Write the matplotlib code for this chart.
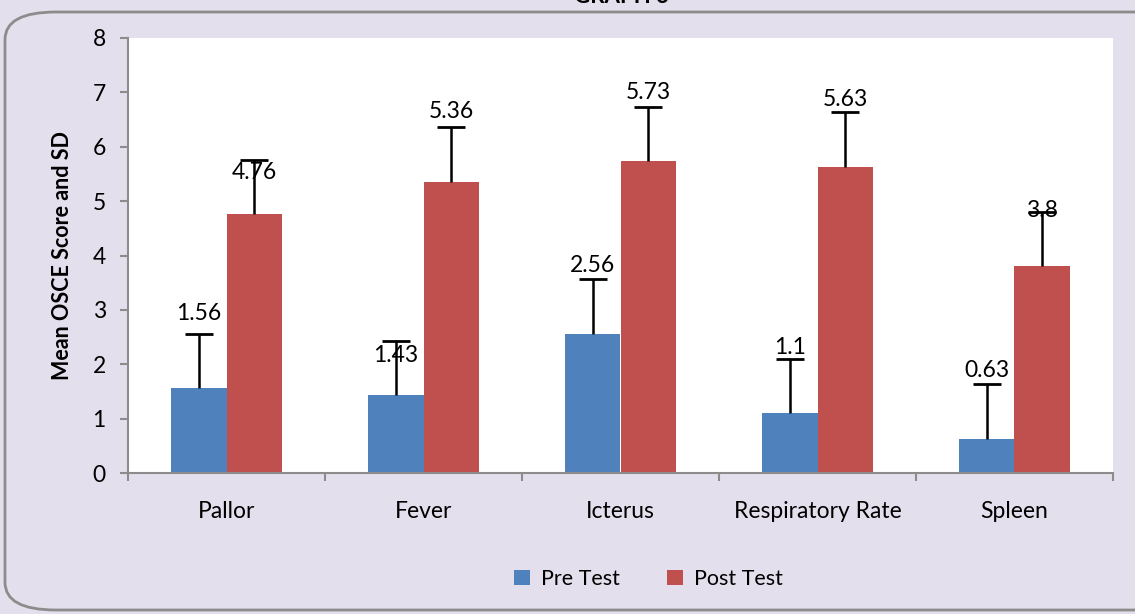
import numpy as np
import matplotlib
matplotlib.use("Agg")
import matplotlib.pyplot as plt
from matplotlib.patches import FancyBboxPatch

# Datos
categorias = ["Pallor", "Fever", "Icterus", "Respiratory Rate", "Spleen"]
pre_test = [1.56, 1.43, 2.56, 1.1, 0.63]
post_test = [4.76, 5.36, 5.73, 5.63, 3.8]
sd_pre = [1.0, 1.0, 1.0, 1.0, 1.0]
sd_post = [1.0, 1.0, 1.0, 1.0, 1.0]

plt.rcParams["font.family"] = ["Lato", "DejaVu Sans"]

azul = "#4F81BD"
rojo = "#C0504D"
fondo = "#E4DFEC"

fig = plt.figure(figsize=(11.35, 6.14), dpi=100)
fig.patch.set_facecolor(fondo)

# Marco redondeado
marco = FancyBboxPatch((5 / 1135, 4 / 614), 1.2, 598 / 614,
                       boxstyle="round,pad=0,rounding_size=0.045",
                       transform=fig.transFigure, facecolor="none",
                       edgecolor="#8C8C8C", linewidth=2, clip_on=False)
fig.patches.append(marco)

# Titulo (cortado arriba)
fig.text(0.548, 1.006, "GRAPH 3", ha="center", va="center",
         fontsize=16, fontweight="bold")

ax = fig.add_axes([128 / 1135, 1 - 473 / 614, (1113 - 128) / 1135, (473 - 38) / 614])
ax.set_facecolor("white")

x = np.arange(len(categorias))
ancho = 0.28
err_kw = dict(ecolor="black", elinewidth=1.8, capsize=10, capthick=2)

b1 = ax.bar(x - ancho / 2, pre_test, ancho, color=azul, label="Pre Test",
            yerr=[np.zeros(len(sd_pre)), sd_pre], error_kw=err_kw)
b2 = ax.bar(x + ancho / 2, post_test, ancho, color=rojo, label="Post Test",
            yerr=[np.zeros(len(sd_post)), sd_post], error_kw=err_kw)

# solo barra de error hacia arriba: ocultar la tapa inferior
for b in (b1, b2):
    b.errorbar.lines[1][0].set_visible(False)

# Etiquetas de valores
off_pre = [1.38, 0.74, 1.25, 1.2, 1.26]
off_post = [0.76, 1.28, 1.27, 1.23, 1.02]
for i in range(len(categorias)):
    ax.text(x[i] - ancho / 2, pre_test[i] + off_pre[i], f"{pre_test[i]:g}",
            ha="center", va="center", fontsize=16.5)
    ax.text(x[i] + ancho / 2, post_test[i] + off_post[i], f"{post_test[i]:g}",
            ha="center", va="center", fontsize=16.5)

ax.set_xlim(-0.5, len(categorias) - 0.5)
ax.set_ylim(0, 8)
ax.set_yticks(range(0, 9))
ax.set_xticks(np.arange(-0.5, len(categorias), 1.0))
ax.set_xticklabels([])
ax.set_xticks(x, minor=True)
ax.set_xticklabels(categorias, minor=True, fontsize=16.5)
ax.tick_params(axis="x", which="minor", length=0, pad=20)
ax.tick_params(axis="x", which="major", length=6, color="#8C8C8C", width=1.5)
ax.tick_params(axis="y", length=6, color="#8C8C8C", width=1.5, labelsize=16.5, pad=10)

for lado in ["top", "right"]:
    ax.spines[lado].set_visible(False)
for lado in ["left", "bottom"]:
    ax.spines[lado].set_color("#8C8C8C")
    ax.spines[lado].set_linewidth(1.5)

ax.set_ylabel("Mean OSCE Score and SD", fontsize=15.5, fontweight="bold", labelpad=14)

fig.legend(loc="center", bbox_to_anchor=(0.571, 0.057), ncol=2, frameon=False,
           fontsize=15.5, handlelength=0.75, handleheight=0.75, columnspacing=2.2,
           handletextpad=0.5)

fig.savefig("out.png", dpi=100, facecolor=fondo)
